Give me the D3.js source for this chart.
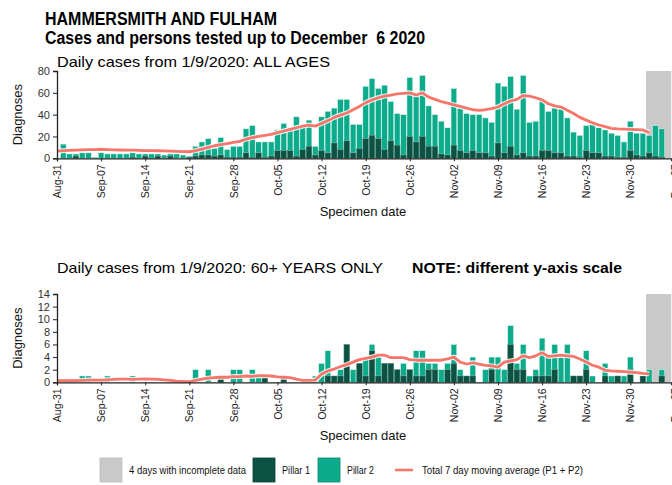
<!DOCTYPE html>
<html>
<head>
<meta charset="utf-8">
<script src="https://cdn.jsdelivr.net/npm/d3@7"></script>
<style>
  html, body { margin: 0; padding: 0; background: #fff; }
  svg { display: block; font-family: "Liberation Sans", Arial, sans-serif; }
</style>
</head>
<body>
<svg id="chart" width="672" height="485"></svg>
<script>
// Daily cases from 1 Sep to 6 Dec 2020 (one value per day)
const firstBarDate = "2020-09-01";

const allAgesPillar1 = [
  0,0,2,0,0,0,0,0,0,0,
  0,1,0,2,0,2,0,2,0,0,
  1,2,3,3,2,3,1,1,1,5,
  1,5,1,2,7,7,7,2,8,11,
  3,7,5,14,8,16,5,9,18,21,
  18,8,16,12,3,20,15,20,11,11,
  4,
  3,12,7,5,7,5,5,2,14,5,
  11,3,5,2,2,7,7,5,5,2,
  2,1,7,5,5,2,2,1,1,7,
  3,2,5,2,1,0
];
const allAgesTotal = [
  13,4,4,5,5,1,5,4,4,4,
  4,5,4,4,4,4,3,4,4,3,
  2,11,15,18,9,19,8,11,11,27,
  30,15,15,15,26,32,28,38,29,35,
  11,38,43,46,54,54,31,31,66,73,
  64,67,52,41,40,74,57,76,48,40,
  34,
  28,64,46,41,40,40,37,33,69,66,
  75,45,76,33,34,53,43,46,45,37,
  24,21,30,31,28,26,23,21,15,34,
  23,23,21,30,27,0
];

const over60Pillar1 = [
  0,0,0,0,0,0,0,0,0,0,
  0,0,0,0,0,0,0,0,0,0,
  0,0,0,0,0,1,0,0,0,0,
  0,0,1,0,0,1,0,0,0,0,
  0,0,1,1,1,6,0,3,1,5,
  1,3,3,2,1,2,1,1,2,2,
  0,
  2,3,1,1,1,0,0,2,0,0,
  6,2,2,0,1,1,1,2,0,0,
  1,1,2,0,0,1,0,1,0,2,
  0,1,0,0,1,0
];
const over60Total = [
  0,0,0,1,1,0,0,1,0,0,
  0,1,0,0,0,0,0,0,0,0,
  0,2,0,2,0,1,0,2,2,0,
  2,1,1,0,0,1,0,0,0,0,
  1,3,5,1,2,6,2,3,4,6,
  4,3,3,2,3,2,5,5,3,3,
  2,
  3,6,2,1,4,0,2,4,4,2,
  9,3,6,1,2,7,4,6,4,6,
  1,1,5,1,0,3,1,1,1,4,
  0,1,2,0,2,0
];

// 7 day moving average of all pillars, from 31 Aug
const maStartDate = "2020-08-31";
const allAgesAverage = [
  6.5,7,7.2,7.5,7.8,8,8,8.3,8,7.8,
  7.6,7.5,7.4,7.2,7,7,6.9,6.8,6.6,6.4,
  6.2,6,7,8.5,10,11.5,12.5,13.5,14.5,15.5,
  17.5,19,20,21,22,23.5,25,26.5,28,29.5,
  30.5,29.5,32,34.5,37.5,39.5,41.5,44.5,47.5,51,
  53.5,55.5,57,58,59,59.5,60,58,60,56,
  54,52,50.5,49,47.5,46,44.5,44,44.5,45.5,
  47,50,52.5,54,57.5,57,55.5,53.5,50,48,
  47,44,41,37.5,35,32.5,30.5,29,27.5,27,
  26.7,26.5,26.2,26,23.5
];
const over60Average = [
  0.25,0.25,0.25,0.25,0.3,0.35,0.35,0.35,0.4,0.45,
  0.5,0.5,0.45,0.5,0.55,0.5,0.45,0.4,0.3,0.2,
  0.15,0.1,0.3,0.5,0.65,0.75,0.8,0.8,0.9,0.9,
  1.0,0.95,1.05,1.05,1.0,0.85,0.8,0.75,0.5,0.3,
  0.3,0.35,1.3,1.8,2.1,2.5,2.8,3.2,3.6,3.8,
  4.0,4.3,4.3,3.9,3.9,3.9,3.6,3.5,3.5,3.5,
  3.5,3.5,3.7,4.0,3.2,2.9,3.1,2.9,2.7,2.6,
  2.4,3.2,3.4,3.6,4.2,3.9,4.2,4.7,4.1,4.2,
  4.3,4.2,4.1,3.7,3.2,2.7,2.4,1.9,1.8,1.75,
  1.7,1.6,1.55,1.4,1.35
];

// Axis ticks and the incomplete period
const tickDates = ["2020-08-31","2020-09-07","2020-09-14","2020-09-21","2020-09-28",
  "2020-10-05","2020-10-12","2020-10-19","2020-10-26","2020-11-02","2020-11-09",
  "2020-11-16","2020-11-23","2020-11-30","2020-12-07"];
const incompleteDays = ["2020-12-03", "2020-12-06"];
const topTicks = [0, 20, 40, 60, 80];
const bottomTicks = [0, 2, 4, 6, 8, 10, 12, 14];

const legendItems = [
  { label: "4 days with incomplete data", key: "incomplete" },
  { label: "Pillar 1", key: "p1" },
  { label: "Pillar 2", key: "p2" },
  { label: "Total 7 day moving average (P1 + P2)", key: "ma" }
];

// ---------------------------------------------------------------
const colors = { p1: "#0b5242", p2: "#0bab8b", ma: "#f6766b", incomplete: "#c9c9c9", axis: "#222", text: "#111" };
const parse = d3.utcParse("%Y-%m-%d");
const fmt = d3.utcFormat("%b-%d");
const dayAt = (start, i) => d3.utcDay.offset(parse(start), i);

const svg = d3.select("#chart");

const x = d3.scaleUtc()
  .domain([parse("2020-08-31"), d3.utcHour.offset(parse("2020-12-06"), 12)])
  .range([57, 671.25]);
const dayW = x(parse("2020-09-02")) - x(parse("2020-09-01"));
const barW = dayW * 0.9;

function buildRows(p1, total) {
  return total.map((t, i) => ({ date: dayAt(firstBarDate, i), p1: p1[i], p2: t - p1[i], total: t }));
}

function panel(cfg) {
  const y = d3.scaleLinear().domain([0, cfg.max]).range([cfg.base, cfg.top]);
  const g = svg.append("g");

  // incomplete-data shading
  const d0 = parse(incompleteDays[0]), d1 = parse(incompleteDays[1]);
  g.append("rect")
    .attr("x", x(d0) - dayW / 2)
    .attr("width", x(d1) - x(d0) + dayW)
    .attr("y", y(cfg.max))
    .attr("height", y(0) - y(cfg.max))
    .attr("fill", colors.incomplete);

  const rows = buildRows(cfg.p1, cfg.total);
  const bars = g.append("g");
  // pillar 2 stacked on pillar 1
  bars.selectAll("rect.p2").data(rows.filter(d => d.p2 > 0)).join("rect")
    .attr("class", "p2")
    .attr("x", d => x(d.date) - barW / 2)
    .attr("width", barW)
    .attr("y", d => y(d.total))
    .attr("height", d => y(d.p1) - y(d.total))
    .attr("fill", colors.p2)
    .attr("stroke", "#d9f3ec").attr("stroke-width", 0.5);
  bars.selectAll("rect.p1").data(rows.filter(d => d.p1 > 0)).join("rect")
    .attr("class", "p1")
    .attr("x", d => x(d.date) - barW / 2)
    .attr("width", barW)
    .attr("y", d => y(d.p1))
    .attr("height", d => y(0) - y(d.p1))
    .attr("fill", colors.p1)
    .attr("stroke", "#4f8a7c").attr("stroke-width", 0.5);

  // moving average with a white halo
  const maRows = cfg.ma.map((v, i) => ({ date: dayAt(maStartDate, i), v }));
  const line = d3.line().x(d => x(d.date)).y(d => y(d.v)).curve(d3.curveLinear);
  g.append("path").datum(maRows).attr("d", line)
    .attr("fill", "none").attr("stroke", "#fff").attr("stroke-opacity", 0.85)
    .attr("stroke-width", 5).attr("stroke-linejoin", "round");
  g.append("path").datum(maRows).attr("d", line)
    .attr("fill", "none").attr("stroke", colors.ma)
    .attr("stroke-width", 2.8).attr("stroke-linejoin", "round");

  // y axis
  const ya = g.append("g").attr("transform", "translate(57,0)")
    .call(d3.axisLeft(y).tickValues(cfg.ticks).tickSize(4).tickPadding(3));
  ya.select(".domain").attr("stroke", colors.axis).attr("stroke-width", 1.3);
  ya.selectAll(".tick line").attr("stroke", colors.axis);
  ya.selectAll(".tick text").attr("font-size", 11).attr("fill", "#333")
    .attr("font-family", "Liberation Sans, Arial, sans-serif");

  // x axis
  const xa = g.append("g").attr("transform", `translate(0,${cfg.base})`)
    .call(d3.axisBottom(x).tickValues(tickDates.map(parse)).tickFormat(fmt).tickSize(3));
  xa.select(".domain").attr("stroke", colors.axis).attr("stroke-width", 1.3);
  xa.selectAll(".tick line").attr("stroke", colors.axis);
  xa.selectAll(".tick text")
    .attr("font-size", 10.5).attr("fill", "#222")
    .attr("font-family", "Liberation Sans, Arial, sans-serif")
    .attr("text-anchor", "end")
    .attr("transform", "rotate(-90)")
    .attr("x", -6).attr("y", 0).attr("dy", "0.35em");

  // axis titles
  g.append("text")
    .attr("transform", `translate(22,${(cfg.base + cfg.top) / 2}) rotate(-90)`)
    .attr("text-anchor", "middle").attr("font-size", 13).attr("fill", colors.text)
    .text("Diagnoses");
  g.append("text")
    .attr("x", 363).attr("y", cfg.base + 58)
    .attr("text-anchor", "middle").attr("font-size", 13).attr("fill", colors.text)
    .text("Specimen date");
}

// titles
svg.append("text").attr("x", 45).attr("y", 25)
  .attr("font-size", 18).attr("font-weight", "bold").attr("fill", "#000")
  .attr("font-family", "'Liberation Sans Narrow', 'Arial Narrow', 'Liberation Sans', sans-serif")
  .attr("textLength", 232).attr("lengthAdjust", "spacingAndGlyphs")
  .text("HAMMERSMITH AND FULHAM");
svg.append("text").attr("x", 45).attr("y", 44)
  .attr("font-size", 18).attr("font-weight", "bold").attr("fill", "#000")
  .attr("font-family", "'Liberation Sans Narrow', 'Arial Narrow', 'Liberation Sans', sans-serif")
  .attr("textLength", 380).attr("lengthAdjust", "spacingAndGlyphs")
  .style("white-space", "pre")
  .text("Cases and persons tested up to December  6 2020");

svg.append("text").attr("x", 57).attr("y", 67)
  .attr("font-size", 14.5).attr("fill", "#000")
  .attr("textLength", 273).attr("lengthAdjust", "spacingAndGlyphs")
  .text("Daily cases from 1/9/2020: ALL AGES");
svg.append("text").attr("x", 57).attr("y", 273)
  .attr("font-size", 14.5).attr("fill", "#000")
  .attr("textLength", 326).attr("lengthAdjust", "spacingAndGlyphs")
  .text("Daily cases from 1/9/2020: 60+ YEARS ONLY");
svg.append("text").attr("x", 412).attr("y", 273)
  .attr("font-size", 14.5).attr("font-weight", "bold").attr("fill", "#000")
  .attr("textLength", 210).attr("lengthAdjust", "spacingAndGlyphs")
  .text("NOTE: different y-axis scale");

panel({ p1: allAgesPillar1, total: allAgesTotal, ma: allAgesAverage, max: 80, ticks: topTicks, base: 158.3, top: 71 });
panel({ p1: over60Pillar1, total: over60Total, ma: over60Average, max: 14, ticks: bottomTicks, base: 382.3, top: 294 });

// legend
const lg = svg.append("g").attr("font-size", 10).attr("fill", colors.text)
  .attr("font-family", "'Liberation Sans Narrow', 'Arial Narrow', 'Liberation Sans', sans-serif");
const legendLayout = {
  incomplete: { x: 100, w: 117 },
  p1: { x: 253, w: 28 },
  p2: { x: 318, w: 27 },
  ma: { x: 395, w: 161 }
};
legendItems.forEach(item => {
  const { x: lx, w } = legendLayout[item.key];
  if (item.key === "ma") {
    lg.append("line").attr("x1", lx).attr("x2", lx + 18).attr("y1", 470).attr("y2", 470)
      .attr("stroke", colors.ma).attr("stroke-width", 2.6);
    lg.append("text").attr("x", lx + 27).attr("y", 474)
      .attr("textLength", w).attr("lengthAdjust", "spacingAndGlyphs").text(item.label);
  } else {
    lg.append("rect").attr("x", lx).attr("y", 458).attr("width", 22).attr("height", 24)
      .attr("fill", colors[item.key])
      .attr("stroke", item.key === "incomplete" ? "#bdbdbd" : d3.color(colors[item.key]).darker(0.6))
      .attr("stroke-width", 0.8);
    lg.append("text").attr("x", lx + 29).attr("y", 474)
      .attr("textLength", w).attr("lengthAdjust", "spacingAndGlyphs").text(item.label);
  }
});
</script>
</body>
</html>
